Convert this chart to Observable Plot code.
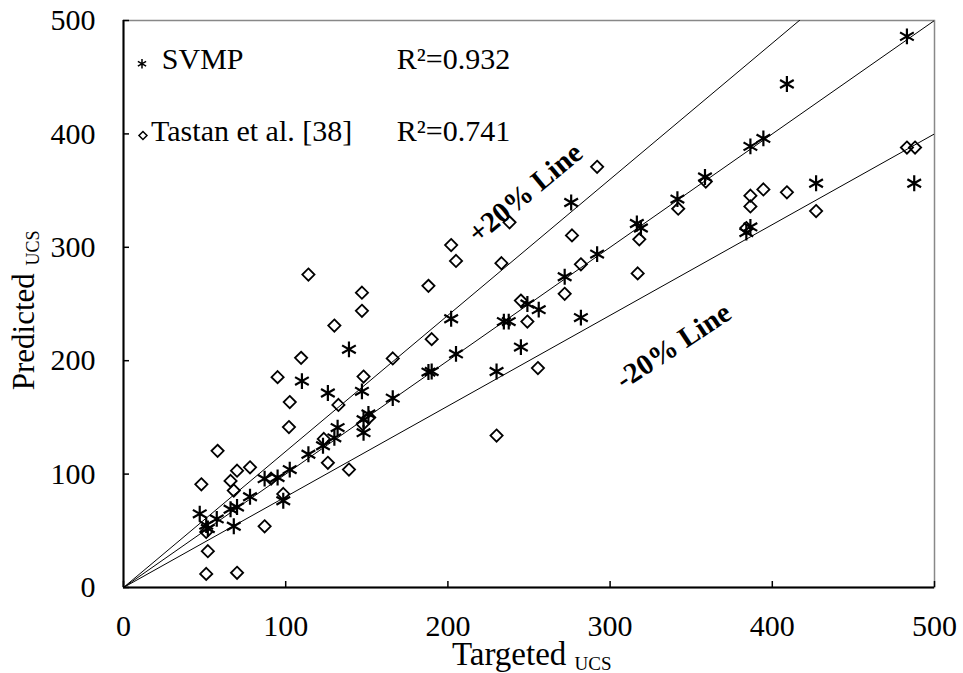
<!DOCTYPE html>
<html><head><meta charset="utf-8">
<script src="https://cdn.jsdelivr.net/npm/d3@7"></script>
<script src="https://cdn.jsdelivr.net/npm/@observablehq/plot@0.6"></script>
<style>body{margin:0;background:#fff}</style>
</head><body><div id="chart"></div>
<script>
// SVMP (asterisks)
const svmpTargeted = [47,51,52,57.5,66,70,68,78,87,95,102.5,98.5,114,123,130,132,126,110,139,147,148,151,148,166,188,190,205,202,230,234.5,237.5,245,249,256,272,276,282,292,316.5,319,341.5,358.5,384,386.5,386.5,394.5,409,427,483,487.5];
const svmpPredicted = [65,55,52,60.5,69,71,54,80,96,97,104,76.5,117.5,125,132,141,171.5,182,210,173,148,153,136.5,167,190,190.5,206,237,190.5,234.5,234.5,212,250,245,274,339.5,238,294,321,317,342.5,362,313,318,389,396,444,356.5,486,356.5];
// Tastan et al. [38] (diamonds)
const tastanTargeted = [48,51,52,51,70,58,66,68,70,78,87,91,98.5,102,102.5,95,109.5,114,123.5,126,139,132.5,130,147,147,148,147.5,151.5,166,188,190,202,205,230,233,238,245,249,255.5,272,276.5,282,292,317,318,342,359,384,386.5,386.5,394.5,409,427,483,488];
const tastanPredicted = [91,49,32,12,13,120.5,94,85.5,103,106,54,96,82.5,141.5,163.5,185.5,202.5,276,131,110,104,161,231,260,244,186,144,150,202,266,219,302,288,134,286,322,253,234.5,193.5,259,310.5,285,371,277,307,334,358,317,336,345.5,351,348.5,332,388,388];
const axisTicks = [0,100,200,300,400,500];
const lineRatios = [1, 1.2, 0.8];
const legendNames = ["SVMP", "Tastan et al. [38]"];
const legendR2 = ["R\u00b2=0.932", "R\u00b2=0.741"];

const svmp = svmpTargeted.map((x,i)=>({x, y: svmpPredicted[i]}));
const tastan = tastanTargeted.map((x,i)=>({x, y: tastanPredicted[i]}));
const refData = lineRatios.flatMap(r => [0,500].map(x => ({r, x, y: r*x})));

const W = 963, H = 673, ML = 123, MR = 29, MT = 20, MB = 86;
const plot = Plot.plot({
  width: W, height: H,
  marginLeft: ML, marginRight: MR, marginTop: MT, marginBottom: MB,
  style: {fontFamily: "'Liberation Serif', 'Times New Roman', serif", fontSize: "30px", background: "white", color: "black"},
  x: {domain: [0,500]},
  y: {domain: [0,500]},
  marks: [
    Plot.frame({stroke: "#888", strokeWidth: 1.5}),
    Plot.line(refData, {x: "x", y: "y", z: "r", stroke: "black", strokeWidth: 1, clip: true}),
    // inward tick marks
    Plot.tickX(axisTicks, {x: d => d, insetTop: (H - MT - MB) - 6, stroke: "black", strokeWidth: 1.5}),
    Plot.tickY(axisTicks, {y: d => d, insetRight: (W - ML - MR) - 6, stroke: "black", strokeWidth: 1.5}),
    Plot.ruleY([0], {stroke: "black", strokeWidth: 2}),
    Plot.ruleX([0], {stroke: "black", strokeWidth: 2}),
    Plot.axisX(axisTicks, {anchor: "bottom", tickSize: 0, tickPadding: 27, label: null}),
    Plot.axisY(axisTicks, {anchor: "left", tickSize: 0, tickPadding: 28, label: null}),
    Plot.dot(tastan, {x: "x", y: "y", symbol: "diamond2", r: 5.5, stroke: "black", strokeWidth: 1.8, fill: "none"}),
    Plot.dot(svmp, {x: "x", y: "y", symbol: "asterisk", r: 7.5, stroke: "black", strokeWidth: 2.2}),
    // rotated line labels
    Plot.text(["+20% Line"], {x: 247.7, y: 347.9, text: d => d, rotate: -39.6, fontWeight: "bold", fontSize: 29, lineAnchor: "middle", textAnchor: "middle"}),
    Plot.text(["-20% Line"], {x: 339, y: 213, text: d => d, rotate: -33.5, fontWeight: "bold", fontSize: 29, lineAnchor: "middle", textAnchor: "middle"}),
    // legend
    Plot.dot([0], {x: 11.4, y: 461.9, symbol: "asterisk", r: 4.5, stroke: "black", strokeWidth: 1.5}),
    Plot.dot([0], {x: 12, y: 398.6, symbol: "diamond2", r: 3.6, stroke: "black", strokeWidth: 1.5, fill: "none"}),
    Plot.text([legendNames[0]], {x: 23.6, y: 456.8, text: d => d, textAnchor: "start", lineAnchor: "bottom", fontSize: 30}),
    Plot.text([legendNames[1]], {x: 17, y: 393.3, text: d => d, textAnchor: "start", lineAnchor: "bottom", fontSize: 30}),
    Plot.text([legendR2[0]], {x: 168.5, y: 456.8, text: d => d, textAnchor: "start", lineAnchor: "bottom", fontSize: 30}),
    Plot.text([legendR2[1]], {x: 168.5, y: 393.3, text: d => d, textAnchor: "start", lineAnchor: "bottom", fontSize: 30})
  ]
});

const svg = d3.select(plot);
const xs = plot.scale("x"), ys = plot.scale("y");
const xl = svg.append("text")
  .attr("x", xs.apply(252)).attr("y", 665)
  .attr("text-anchor", "middle").attr("font-size", 33).attr("fill", "black")
  .text("Targeted ");
xl.append("tspan").attr("font-size", 19).attr("dy", 5).text("UCS");
const yl = svg.append("text")
  .attr("transform", `translate(34,${ys.apply(244)}) rotate(-90)`)
  .attr("text-anchor", "middle").attr("font-size", 31).attr("fill", "black")
  .text("Predicted ");
yl.append("tspan").attr("font-size", 18).attr("dy", 5).text("UCS");

document.getElementById("chart").appendChild(plot);
</script>
</body></html>
